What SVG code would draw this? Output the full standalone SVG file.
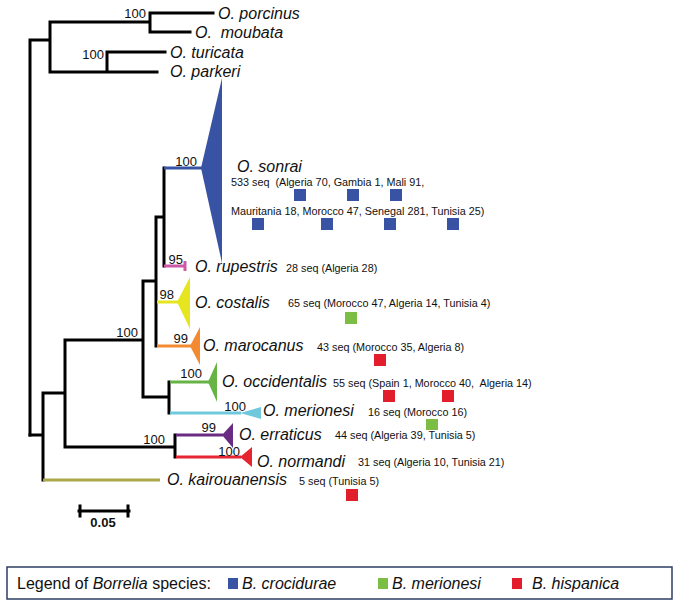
<svg xmlns="http://www.w3.org/2000/svg" width="683" height="605" viewBox="0 0 683 605">
<style>
text{font-family:"Liberation Sans",Arial,sans-serif;fill:#111}
.sp{font-size:16px;font-style:italic}
.sq{font-size:10.8px}
.bs{font-size:13px}
.br{fill:none;stroke:#000;stroke-width:3;stroke-linecap:square}
.c{fill:none;stroke-width:3}
.blue{fill:#3953a4}
.green{fill:#7cbd44}
.red{fill:#e31e2c}
</style>
<rect width="683" height="605" fill="#fff"/>
<g id="connectors">
<path class="br" d="M30,40V435M30,40H50M50,22V72M50,22H150M150,13V32M150,13H213M150,32H190M50,72H157M107,52V72M107,52H165"/>
<path class="br" d="M30,435H43M43,393V480M43,393H65M65,340V447M65,340H143M143,281V397M143,281H156M156,217V346M156,217H164M164,168V266M143,397H169M169,382V413M65,447H175M175,435V457"/>
<path class="c" stroke="#3953a4" d="M164,168H202"/>
<path class="c" stroke="#cc5aa8" d="M164,266H185M185,261V271"/>
<path class="c" stroke="#e6e620" d="M157,302H178"/>
<path class="c" stroke="#f48a30" d="M157,346H191"/>
<path class="c" stroke="#66b445" d="M170,382H209"/>
<path class="c" stroke="#70c8dc" d="M170,413H241"/>
<path class="c" stroke="#6a2b82" d="M176,435H223"/>
<path class="c" stroke="#e52630" d="M176,457H241"/>
<path class="c" stroke="#a9a94a" d="M43,480H160"/>
</g>
<g id="bootstrap">
<text class="bs" x="146" y="18" text-anchor="end">100</text>
<text class="bs" x="104" y="59" text-anchor="end">100</text>
<text class="bs" x="197" y="166" text-anchor="end">100</text>
<text class="bs" x="183" y="264" text-anchor="end">95</text>
<text class="bs" x="174" y="299" text-anchor="end">98</text>
<text class="bs" x="188" y="343" text-anchor="end">99</text>
<text class="bs" x="138" y="337" text-anchor="end">100</text>
<text class="bs" x="202" y="378" text-anchor="end">100</text>
<text class="bs" x="246" y="411" text-anchor="end">100</text>
<text class="bs" x="165" y="444" text-anchor="end">100</text>
<text class="bs" x="216" y="432" text-anchor="end">99</text>
<text class="bs" x="240" y="456" text-anchor="end">100</text>
</g>
<g id="porcinus"><text class="sp" x="218" y="19">O. porcinus</text></g>
<g id="moubata"><text class="sp" x="195" y="38" xml:space="preserve">O.  moubata</text></g>
<g id="turicata"><text class="sp" x="170" y="58">O. turicata</text></g>
<g id="parkeri"><text class="sp" x="170" y="77">O. parkeri</text></g>
<g id="sonrai">
<polygon class="blue" points="201,168 222,78 222,263"/>
<text class="sp" x="237" y="172">O. sonrai</text>
<text class="sq" x="231" y="186" xml:space="preserve">533 seq  (Algeria 70, Gambia 1, Mali 91,</text>
<text class="sq" x="231" y="215">Mauritania 18, Morocco 47, Senegal 281, Tunisia 25)</text>
<rect class="blue" x="294" y="189" width="12" height="12"/>
<rect class="blue" x="347" y="189" width="12" height="12"/>
<rect class="blue" x="390" y="189" width="12" height="12"/>
<rect class="blue" x="252" y="218" width="12" height="12"/>
<rect class="blue" x="321" y="218" width="12" height="12"/>
<rect class="blue" x="384" y="218" width="12" height="12"/>
<rect class="blue" x="447" y="218" width="12" height="12"/>
</g>
<g id="rupestris">
<text class="sp" x="195" y="272">O. rupestris</text>
<text class="sq" x="286" y="272">28 seq (Algeria 28)</text>
</g>
<g id="costalis">
<polygon fill="#e6e620" points="177,302 190,277 190,329"/>
<text class="sp" x="195" y="308">O. costalis</text>
<text class="sq" x="288" y="307">65 seq (Morocco 47, Algeria 14, Tunisia 4)</text>
<rect class="green" x="345" y="312" width="12" height="12"/>
</g>
<g id="marocanus">
<polygon fill="#f48a30" points="190,346 200,327 200,365"/>
<text class="sp" x="203" y="351">O. marocanus</text>
<text class="sq" x="317" y="351">43 seq (Morocco 35, Algeria 8)</text>
<rect class="red" x="374" y="354" width="12" height="12"/>
</g>
<g id="occidentalis">
<polygon fill="#66b445" points="208,382 217,362 217,402"/>
<text class="sp" x="222" y="387">O. occidentalis</text>
<text class="sq" x="333" y="387" xml:space="preserve">55 seq (Spain 1, Morocco 40,  Algeria 14)</text>
<rect class="red" x="383" y="390" width="12" height="12"/>
<rect class="red" x="442" y="390" width="12" height="12"/>
</g>
<g id="merionesi">
<polygon fill="#70c8dc" points="240,413 261,407 261,419"/>
<text class="sp" x="263" y="416">O. merionesi</text>
<text class="sq" x="368" y="416">16 seq (Morocco 16)</text>
<rect class="green" x="426" y="419" width="12" height="11"/>
</g>
<g id="erraticus">
<polygon fill="#6a2b82" points="222,435 233,423 233,448"/>
<text class="sp" x="239" y="440">O. erraticus</text>
<text class="sq" x="335" y="439">44 seq (Algeria 39, Tunisia 5)</text>
</g>
<g id="normandi">
<polygon fill="#e52630" points="240,457 252,447 252,467"/>
<text class="sp" x="257" y="467">O. normandi</text>
<text class="sq" x="358" y="466">31 seq (Algeria 10, Tunisia 21)</text>
</g>
<g id="kairouanensis">
<text class="sp" x="167" y="485">O. kairouanensis</text>
<text class="sq" x="299" y="485">5 seq (Tunisia 5)</text>
<rect class="red" x="346" y="489" width="12" height="12"/>
</g>
<g id="scalebar">
<path class="br" stroke-linecap="butt" d="M79,511H129M80,506V516M128,506V516"/>
<text x="103" y="527" text-anchor="middle" font-size="13" font-weight="bold">0.05</text>
</g>
<g id="legend">
<rect x="7" y="567" width="665" height="32" fill="none" stroke="#2c3e62" stroke-width="1.5"/>
<text x="17" y="589" font-size="16">Legend of <tspan font-style="italic">Borrelia</tspan> species:</text>
<rect class="blue" x="228" y="578" width="10" height="11"/>
<text class="sp" x="242" y="589">B. crocidurae</text>
<rect class="green" x="378" y="578" width="10" height="11"/>
<text class="sp" x="392" y="589">B. merionesi</text>
<rect class="red" x="512" y="578" width="10" height="11"/>
<text class="sp" x="532" y="589">B. hispanica</text>
</g>
</svg>
